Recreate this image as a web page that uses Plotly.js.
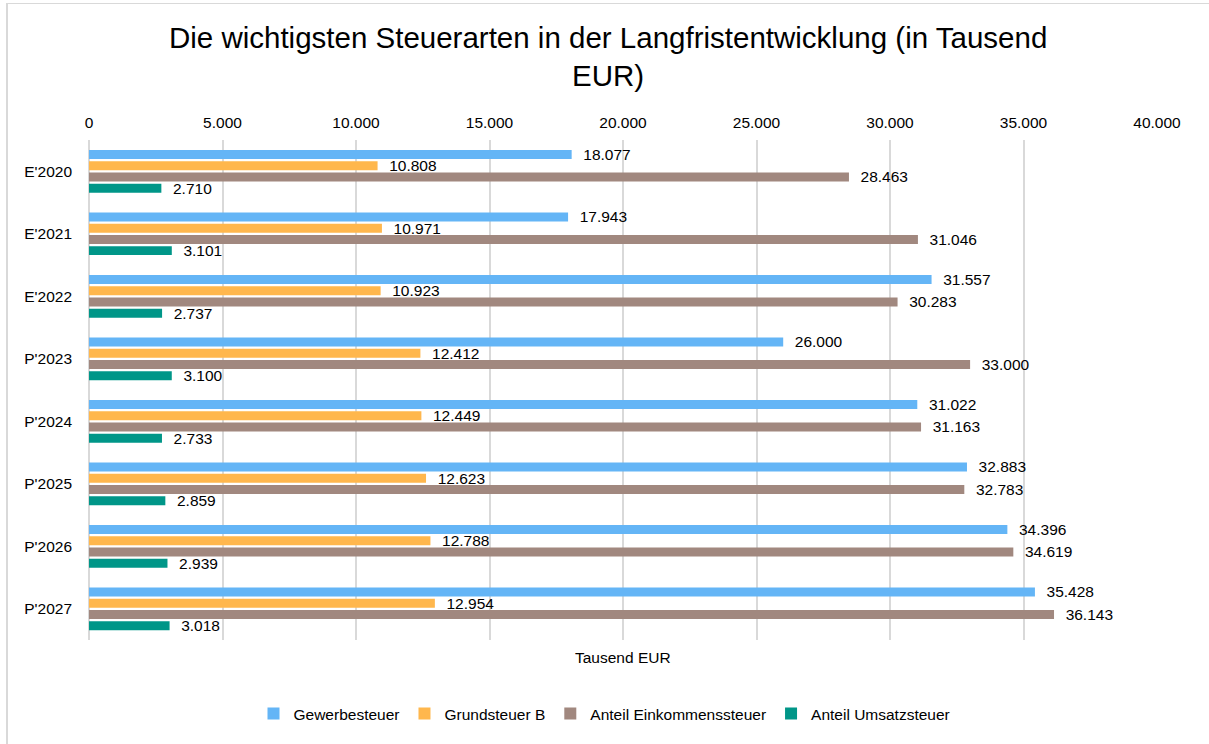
<!DOCTYPE html>
<html>
<head>
<meta charset="utf-8">
<script src="https://cdn.plot.ly/plotly-3.0.1.min.js"></script>
<style>
  html, body { margin: 0; padding: 0; background: #fff; overflow: hidden; }
  #chart { width: 1209px; height: 744px; }
  #frame { position: absolute; left: 6px; top: 3px; width: 1300px; height: 900px;
           border-left: 2px solid #d9d9d9; border-top: 1px solid #d9d9d9; pointer-events: none; }
</style>
</head>
<body>
<div id="chart"></div>
<div id="frame"></div>
<script>
const categories = ["E'2020", "E'2021", "E'2022", "P'2023", "P'2024", "P'2025", "P'2026", "P'2027"];
const gewerbesteuer = [18077, 17943, 31557, 26000, 31022, 32883, 34396, 35428];
const grundsteuerB = [10808, 10971, 10923, 12412, 12449, 12623, 12788, 12954];
const einkommensteuer = [28463, 31046, 30283, 33000, 31163, 32783, 34619, 36143];
const umsatzsteuer = [2710, 3101, 2737, 3100, 2733, 2859, 2939, 3018];
const seriesNames = ["Gewerbesteuer", "Grundsteuer B", "Anteil Einkommenssteuer", "Anteil Umsatzsteuer"];
const seriesColors = ["#64b5f6", "#ffb74d", "#a1887f", "#009688"];
const tickValues = [0, 5000, 10000, 15000, 20000, 25000, 30000, 35000, 40000];

const FONT = "Liberation Sans, Arial, sans-serif";
const allSeries = [gewerbesteuer, grundsteuerB, einkommensteuer, umsatzsteuer];

const traces = allSeries.map((vals, i) => ({
  type: 'bar',
  orientation: 'h',
  name: seriesNames[i],
  y: categories,
  x: vals,
  marker: { color: seriesColors[i] },
  texttemplate: '\u00a0\u00a0%{x:,.0f}',
  textposition: 'outside',
  constraintext: 'none',
  cliponaxis: false,
  textfont: { family: FONT, size: 15.5, color: '#000' },
  hoverinfo: 'x+name'
}));

const layout = {
  width: 1209,
  height: 744,
  separators: ',.',
  paper_bgcolor: '#fff',
  plot_bgcolor: '#fff',
  font: { family: FONT, size: 15.5, color: '#000' },
  margin: { l: 89, r: 52, t: 140, b: 104 },
  title: {
    text: 'Die wichtigsten Steuerarten in der Langfristentwicklung (in Tausend<br>EUR)',
    font: { family: FONT, size: 29.5, color: '#000' },
    x: 0.503, xanchor: 'center',
    yref: 'container', y: 1 - 48 / 744, yanchor: 'top'
  },
  barmode: 'group',
  bargap: 0.28,
  bargroupgap: 0.2,
  xaxis: {
    side: 'top',
    range: [0, 40000],
    tickvals: tickValues,
    tickformat: ',d',
    showgrid: true,
    gridcolor: '#d9d9d9',
    gridwidth: 2,
    zeroline: true,
    zerolinecolor: '#d9d9d9',
    zerolinewidth: 2,
    showline: false,
    ticks: '',
    ticklabelstandoff: 8,
    tickfont: { family: FONT, size: 15.5, color: '#000' }
  },
  yaxis: {
    type: 'category',
    autorange: 'reversed',
    showgrid: false,
    zeroline: false,
    showline: false,
    ticks: '',
    ticklabelstandoff: 16,
    tickfont: { family: FONT, size: 15.5, color: '#000' }
  },
  legend: {
    orientation: 'h',
    xref: 'container', x: 0.5, xanchor: 'center',
    yref: 'container', y: 1 - 714 / 744, yanchor: 'middle',
    font: { family: FONT, size: 15.5, color: '#000' },
    traceorder: 'normal'
  },
  annotations: [{
    text: 'Tausend EUR',
    xref: 'paper', x: 0.5, xanchor: 'center',
    yref: 'paper', y: -0.034, yanchor: 'middle',
    showarrow: false,
    font: { family: FONT, size: 15.5, color: '#000' }
  }],
  showlegend: true
};

Plotly.newPlot('chart', traces, layout, { displayModeBar: false, responsive: false });
</script>
</body>
</html>
